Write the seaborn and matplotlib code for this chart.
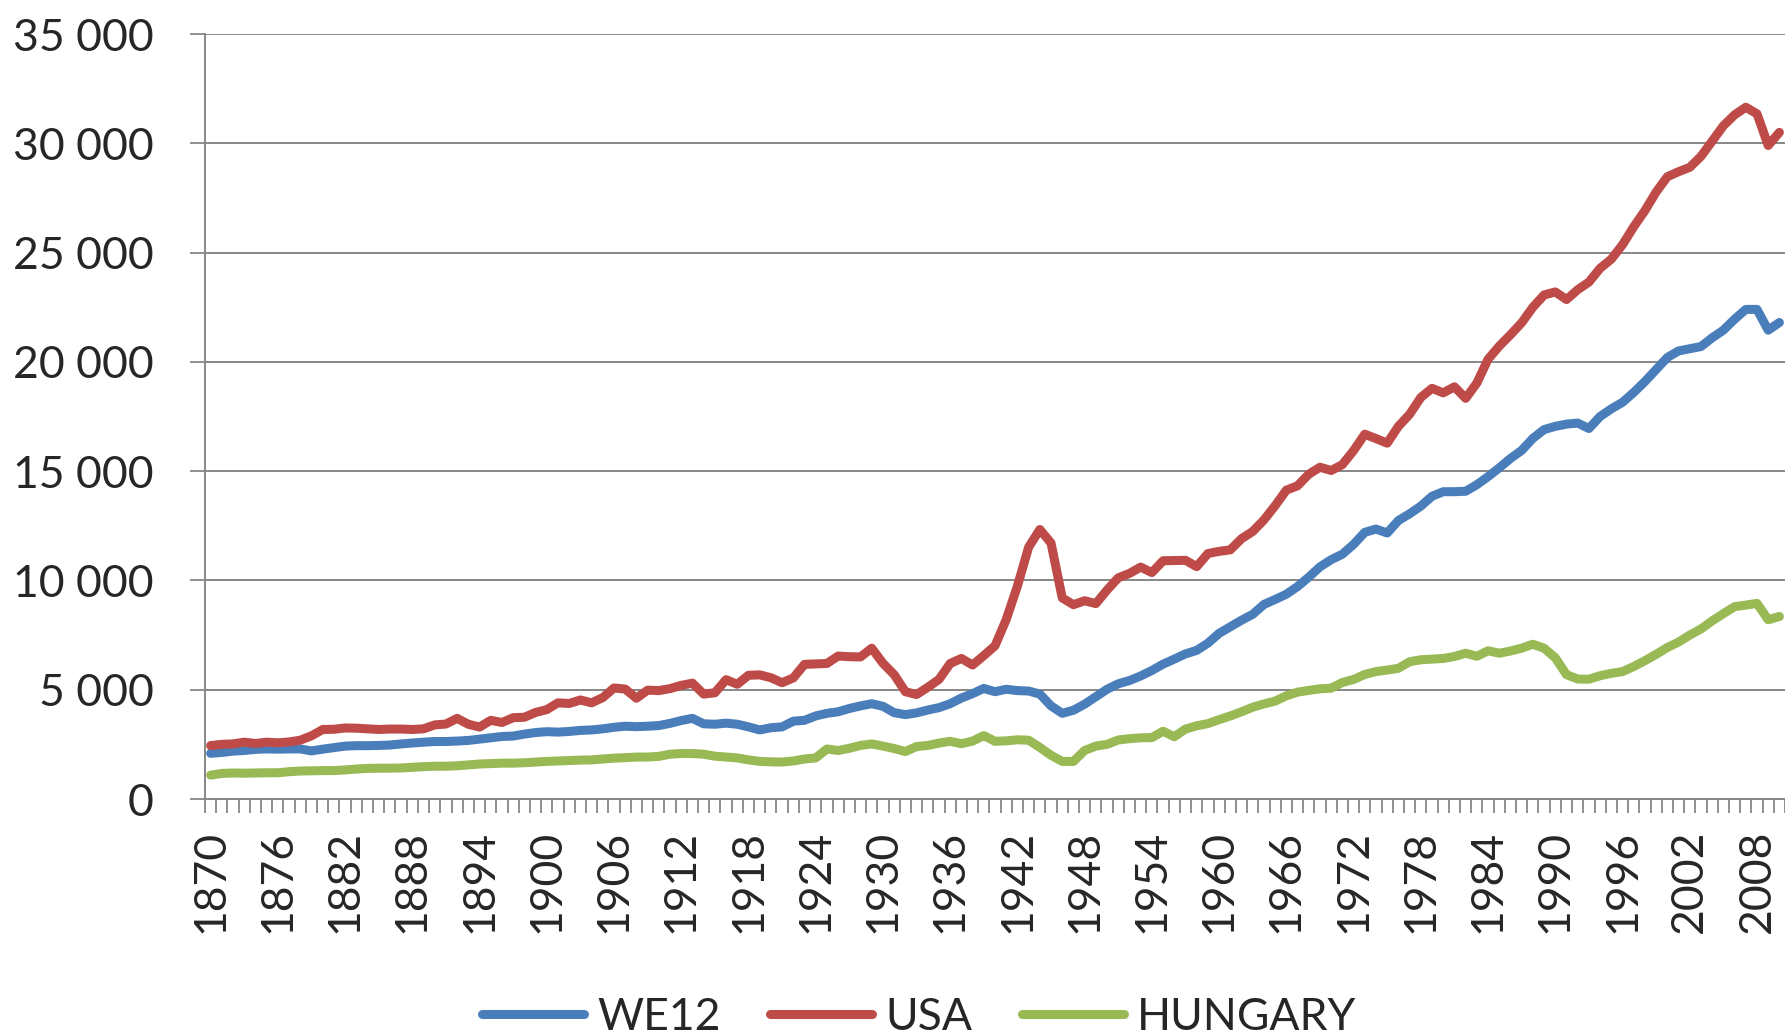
import numpy as np
import pandas as pd
import matplotlib
matplotlib.use("Agg")
import matplotlib.pyplot as plt
from matplotlib.ticker import FuncFormatter
import seaborn as sns

# GDP per capita, yearly values (1870-2010)
years = list(range(1870, 2011))

usa = [2445, 2500, 2520, 2600, 2540, 2600, 2570, 2610, 2690, 2890,
       3180, 3190, 3250, 3240, 3210, 3180, 3200, 3200, 3180, 3210,
       3390, 3430, 3690, 3420, 3290, 3600, 3500, 3720, 3740, 3960,
       4090, 4400, 4370, 4530, 4400, 4640, 5080, 5030, 4610, 4980,
       4960, 5050, 5200, 5300, 4800, 4860, 5460, 5250, 5660, 5680,
       5550, 5320, 5540, 6160, 6180, 6200, 6540, 6510, 6500, 6900,
       6210, 5690, 4910, 4780, 5110, 5470, 6200, 6430, 6130, 6560,
       7010, 8210, 9740, 11520, 12330, 11710, 9200, 8890, 9070, 8940,
       9560, 10120, 10320, 10610, 10360, 10900, 10910, 10920, 10630, 11230,
       11330, 11400, 11910, 12240, 12770, 13420, 14130, 14330, 14860, 15180,
       15030, 15300, 15940, 16690, 16490, 16280, 17050, 17600, 18370, 18790,
       18580, 18860, 18330, 19030, 20120, 20720, 21240, 21790, 22500, 23060,
       23200, 22850, 23300, 23650, 24280, 24700, 25360, 26180, 26920, 27770,
       28470, 28700, 28900, 29400, 30100, 30800, 31300, 31650, 31350, 29900,
       30500]

we12 = [2090, 2130, 2190, 2220, 2270, 2290, 2280, 2290, 2290, 2200,
        2280, 2350, 2420, 2440, 2440, 2450, 2470, 2520, 2560, 2600,
        2630, 2630, 2650, 2680, 2740, 2800, 2860, 2880, 2970, 3040,
        3080, 3060, 3090, 3140, 3160, 3210, 3280, 3330, 3310, 3330,
        3360, 3460, 3590, 3690, 3440, 3420, 3470, 3420, 3300, 3160,
        3260, 3300, 3560, 3600, 3800, 3920, 3990, 4140, 4260, 4360,
        4240, 3950, 3860, 3940, 4070, 4180, 4360, 4620, 4820, 5060,
        4910, 5020, 4960, 4940, 4800, 4260, 3920, 4060, 4340, 4680,
        5020, 5270, 5420, 5630, 5880, 6170, 6400, 6640, 6800, 7130,
        7580, 7880, 8180, 8450, 8900, 9130, 9370, 9720, 10150, 10620,
        10950, 11200, 11650, 12200, 12350, 12170, 12740, 13050, 13400, 13850,
        14060, 14060, 14080, 14380, 14750, 15150, 15580, 15950, 16500, 16900,
        17050, 17150, 17200, 16950, 17500, 17850, 18150, 18600, 19100, 19650,
        20200, 20500, 20600, 20700, 21100, 21450, 21950, 22400, 22400, 21450,
        21800]

hungary = [1090, 1170, 1190, 1180, 1190, 1200, 1200, 1250, 1280, 1290,
           1300, 1300, 1330, 1370, 1400, 1410, 1410, 1420, 1450, 1480,
           1500, 1500, 1520, 1560, 1600, 1620, 1640, 1640, 1660, 1690,
           1720, 1740, 1760, 1780, 1790, 1830, 1870, 1890, 1920, 1920,
           1950, 2050, 2080, 2080, 2050, 1960, 1920, 1880, 1790, 1720,
           1700, 1690, 1740, 1830, 1880, 2290, 2220, 2320, 2450, 2520,
           2420, 2310, 2170, 2400, 2450, 2560, 2640, 2530, 2650, 2900,
           2640, 2660, 2710, 2690, 2360, 2000, 1720, 1720, 2220, 2420,
           2500, 2700, 2760, 2800, 2810, 3100, 2850, 3200, 3350, 3450,
           3630, 3800, 3990, 4200, 4350, 4480, 4720, 4890, 4970, 5040,
           5070, 5330, 5470, 5700, 5830, 5900, 5980, 6280, 6370, 6400,
           6430, 6520, 6670, 6530, 6780, 6670, 6770, 6900, 7080, 6900,
           6460, 5690, 5490, 5480, 5640, 5750, 5830, 6060, 6330, 6620,
           6930, 7180, 7500, 7780, 8150, 8480, 8800, 8870, 8950, 8200,
           8350]

series_names = ["WE12", "USA", "HUNGARY"]
colors = ["#4a7ebb", "#be4b48", "#98b954"]
label_years = list(range(1870, 2009, 6))
y_ticks = list(range(0, 35001, 5000))

# long-form table for seaborn
df = pd.DataFrame({
    "year": years * 3,
    "value": we12 + usa + hungary,
    "series": sum([[name] * len(years) for name in series_names], []),
})

sns.set_style("white")
plt.rcParams["font.family"] = ["Lato", "DejaVu Sans"]

grid_color = "#878787"
fs = 32

fig = plt.figure(figsize=(17.85, 10.35), dpi=100)
ax = fig.add_axes([205 / 1785, 1 - 799 / 1035, 1 - 205 / 1785, (799 - 34) / 1035])

sns.lineplot(data=df, x="year", y="value", hue="series", hue_order=series_names,
             palette=colors, linewidth=6.5, ax=ax, legend=False)

# axes limits, categories drawn "between tick marks" like the original
ax.set_xlim(1869.5, 2010.5)
ax.set_ylim(0, 35000)

ax.set_xticks(label_years)
ax.set_xticklabels([str(y) for y in label_years], rotation=90, fontsize=fs)
ax.set_xticks(np.arange(1869.5, 2011, 1), minor=True)
ax.tick_params(axis="x", which="major", length=0, pad=22)
ax.tick_params(axis="x", which="minor", length=10, width=1.3, color=grid_color,
               direction="out", bottom=True)

ax.set_yticks(y_ticks)
ax.yaxis.set_major_formatter(FuncFormatter(lambda v, p: f"{int(v):,}".replace(",", " ")))
ax.tick_params(axis="y", which="major", length=11, width=1.3, color=grid_color,
               direction="out", pad=26, labelsize=fs, left=True)

ax.grid(axis="y", color=grid_color, linewidth=1.4)
ax.grid(axis="x", visible=False)
ax.set_axisbelow(True)

for side in ["top", "right"]:
    ax.spines[side].set_visible(False)
for side in ["left", "bottom"]:
    ax.spines[side].set_color(grid_color)
    ax.spines[side].set_linewidth(1.4)

ax.set_xlabel("")
ax.set_ylabel("")

ax.legend(handles=ax.get_lines()[:3], labels=series_names, loc="center",
          bbox_to_anchor=(0.515, 0.017), bbox_transform=fig.transFigure,
          ncol=3, frameon=False, fontsize=fs, handlelength=2.3,
          handletextpad=0.3, columnspacing=1.1)

fig.savefig("out.png", dpi=100)
